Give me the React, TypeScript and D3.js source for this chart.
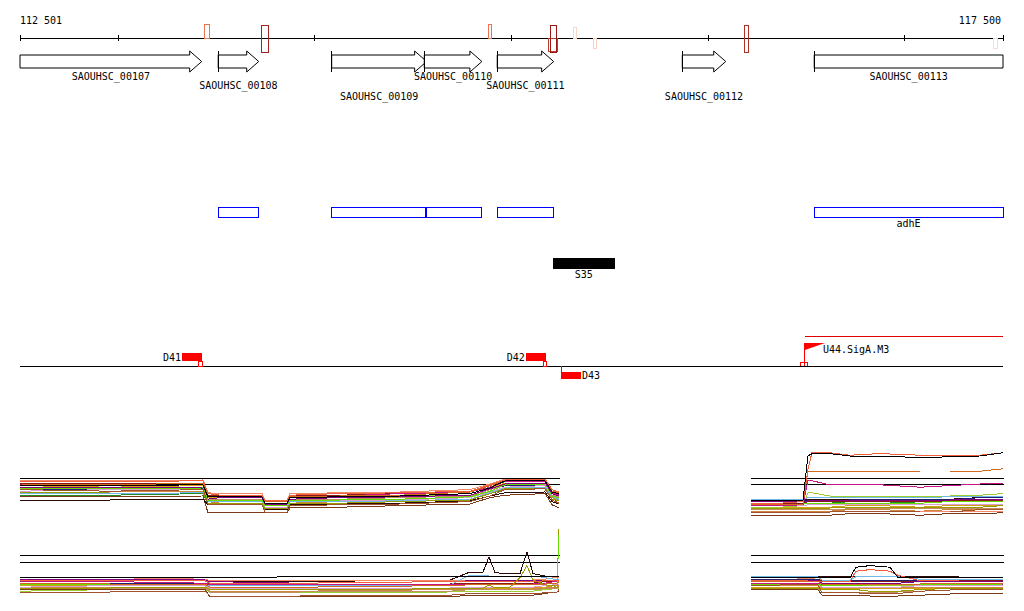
import React from "react";
import * as d3 from "d3";

// genomic window shown
const REGION_START = 112501;
const REGION_END = 117500;
const AXIS_TICKS = [113000, 114000, 115000, 116000, 117000];

const GENES = [
  { name: "SAOUHSC_00107", start: 111950, end: 113425 },
  { name: "SAOUHSC_00108", start: 113509, end: 113715 },
  { name: "SAOUHSC_00109", start: 114086, end: 114569 },
  { name: "SAOUHSC_00110", start: 114557, end: 114850 },
  { name: "SAOUHSC_00111", start: 114928, end: 115215 },
  { name: "SAOUHSC_00112", start: 115869, end: 116090 },
  { name: "SAOUHSC_00113", start: 116540, end: 117900 },
];

// break points on the axis: strand and strength
const BREAKS = [
  { start: 113438, end: 113464, strand: "+", score: 0.55 },
  { start: 113727, end: 113766, strand: "±", score: 0.9 },
  { start: 114882, end: 114900, strand: "+", score: 0.55 },
  { start: 115191, end: 115235, strand: "-", score: 0.8 },
  { start: 115201, end: 115227, strand: "±", score: 0.95 },
  { start: 115315, end: 115329, strand: "+", score: 0.12 },
  { start: 115415, end: 115435, strand: "-", score: 0.15 },
  { start: 116183, end: 116207, strand: "±", score: 0.85 },
  { start: 117451, end: 117470, strand: "-", score: 0.1 },
];

const SEGMENTS = [
  { start: 113509, end: 113712, label: "" },
  { start: 114084, end: 114561, label: "" },
  { start: 114566, end: 114847, label: "" },
  { start: 114928, end: 115213, label: "" },
  { start: 116539, end: 117500, label: "adhE" },
];

const SRNAS = [{ start: 115212, end: 115525, label: "S35" }];

const TERMINATORS = [
  { name: "D41", start: 113325, end: 113426, strand: "+", siteStart: 113408, siteEnd: 113428 },
  { name: "D42", start: 115073, end: 115174, strand: "+", siteStart: 115161, siteEnd: 115181 },
  { name: "D43", start: 115254, end: 115354, strand: "-", siteStart: 115254, siteEnd: 115254 },
];

const PROMOTERS = [
  { name: "U44.SigA.M3", pos: 116493, siteStart: 116471, siteEnd: 116507, transcriptEnd: 117500 },
];

// expression profiles (log2 signal), one value per position, conditions in fixed order
const CONDITION_COLORS = [
  "#000000", "#f0603c", "#a0522d", "#d2691e", "#66dd00",
  "#999900", "#800080", "#c71585", "#70b8e8", "#d8a0d0",
  "#8b1a1a", "#c09060", "#202070", "#d4a017", "#f08a6a",
  "#2a0a0a", "#7a3a1a", "#cd853f", "#9acd32", "#228b22",
];

const TOP_THRESHOLDS = [11.25, 10.5];
const BOTTOM_THRESHOLDS = [11.625, 10.75];

const TL_POS = [112501, 112959, 113432, 113457, 113518, 113732, 113747, 113859, 113874, 114128, 114433, 114790, 114891, 114968, 115171, 115207, 115242];
const TL_VALUES = [
  [10.3, 10.3, 10.4, 8.9, 8.9, 8.9, 8.1, 8.1, 8.8, 8.9, 9.0, 9.3, 10.0, 10.9, 10.9, 9.5, 9.3],
  [10.8, 10.8, 10.9, 9.3, 9.1, 9.1, 8.4, 8.4, 9.1, 9.3, 9.4, 9.6, 10.4, 11.0, 11.1, 9.8, 9.5],
  [9.8, 9.6, 9.8, 8.0, 7.9, 7.9, 7.0, 7.0, 7.8, 7.9, 8.0, 8.3, 9.0, 9.8, 9.9, 8.5, 8.1],
  [10.5, 10.4, 10.6, 9.0, 9.0, 9.0, 8.3, 8.3, 9.0, 9.0, 9.1, 9.5, 10.3, 10.9, 11.0, 9.6, 9.4],
  [9.9, 9.9, 10.0, 8.5, 8.5, 8.5, 7.8, 7.8, 8.5, 8.5, 8.6, 8.9, 9.6, 10.4, 10.5, 9.0, 8.8],
  [9.4, 9.5, 9.5, 8.1, 8.1, 8.1, 7.4, 7.4, 8.0, 8.1, 8.3, 8.5, 9.3, 9.9, 10.0, 8.6, 8.4],
  [10.1, 10.0, 10.1, 8.6, 8.8, 8.8, 7.9, 7.9, 8.6, 8.8, 8.9, 9.1, 9.9, 10.5, 10.6, 9.3, 9.0],
  [10.4, 10.5, 10.5, 9.0, 8.9, 8.9, 8.1, 8.1, 8.9, 9.0, 9.3, 9.5, 10.1, 10.8, 10.8, 9.4, 9.1],
  [9.3, 9.3, 9.4, 8.3, 8.3, 8.3, 7.5, 7.5, 8.3, 8.3, 8.4, 8.6, 9.4, 10.0, 10.1, 8.9, 8.6],
  [9.6, 9.8, 9.8, 8.4, 8.4, 8.4, 7.6, 7.6, 8.4, 8.4, 8.5, 8.8, 9.5, 10.1, 10.3, 8.9, 8.6],
  [10.6, 10.6, 10.6, 9.1, 9.1, 9.1, 8.4, 8.4, 9.0, 9.1, 9.3, 9.5, 10.3, 10.9, 10.9, 9.6, 9.3],
  [10.0, 10.0, 10.1, 8.6, 8.6, 8.6, 7.9, 7.9, 8.6, 8.6, 8.8, 9.0, 9.8, 10.4, 10.4, 9.1, 8.9],
  [9.8, 9.8, 9.9, 8.5, 8.4, 8.4, 7.8, 7.8, 8.5, 8.6, 8.8, 9.0, 9.8, 10.3, 10.4, 9.0, 8.8],
  [10.3, 10.1, 10.3, 8.8, 8.8, 8.8, 8.0, 8.0, 8.8, 8.9, 9.0, 9.3, 10.0, 10.6, 10.6, 9.3, 9.0],
  [10.9, 10.9, 11.0, 9.4, 9.3, 9.3, 8.5, 8.5, 9.3, 9.4, 9.5, 9.8, 10.5, 11.1, 11.1, 9.8, 9.5],
  [8.5, 8.5, 8.6, 7.9, 7.9, 7.9, 7.3, 7.3, 7.9, 8.0, 8.1, 8.4, 9.0, 9.4, 9.5, 8.3, 8.0],
  [8.9, 8.9, 9.0, 6.9, 6.9, 6.9, 6.9, 6.9, 7.5, 7.6, 7.8, 8.0, 8.8, 9.1, 9.3, 7.9, 7.5],
  [9.5, 9.5, 9.6, 8.3, 8.1, 8.1, 7.5, 7.5, 8.1, 8.3, 8.4, 8.6, 9.4, 10.0, 10.1, 8.8, 8.5],
  [9.9, 9.8, 9.9, 8.8, 8.8, 8.8, 8.0, 8.0, 8.8, 8.9, 9.0, 9.1, 9.9, 10.5, 10.5, 9.1, 8.9],
  [9.1, 9.1, 9.3, 7.9, 8.0, 8.0, 7.3, 7.3, 8.0, 8.1, 8.3, 8.5, 9.3, 9.8, 9.9, 8.6, 8.4],
];

const BL_POS = [112501, 112959, 113442, 113467, 113925, 114688, 114790, 114856, 114886, 114917, 114993, 115044, 115079, 115110, 115171, 115217, 115232, 115242];
const BL_VALUES = [
  [8.8, 8.8, 8.8, 8.8, 8.9, 8.9, 8.9, 8.9, 8.9, 8.9, 8.9, 8.9, 8.9, 8.9, 8.9, 8.9, 8.9, 9.0],
  [8.5, 8.4, 8.4, 8.1, 8.1, 8.3, 8.3, 8.3, 8.3, 8.3, 8.3, 8.3, 8.3, 8.3, 8.4, 8.5, 8.5, 8.5],
  [7.0, 7.0, 7.1, 6.5, 6.5, 6.6, 6.8, 6.8, 6.8, 6.8, 6.8, 6.8, 6.8, 6.8, 6.9, 7.0, 7.0, 7.3],
  [8.1, 8.0, 8.0, 7.6, 7.6, 7.8, 7.9, 7.9, 7.9, 7.9, 7.9, 7.9, 7.9, 7.9, 8.0, 8.1, 8.1, 8.3],
  [7.9, 7.9, 7.9, 7.6, 7.6, 7.8, 7.9, 7.9, 7.9, 7.9, 7.9, 7.9, 7.9, 7.9, 8.0, 8.1, 8.1, 14.1],
  [7.5, 7.5, 7.6, 7.3, 7.3, 7.4, 7.5, 7.5, 7.9, 7.5, 7.6, 8.8, 10.3, 8.5, 7.9, 7.8, 7.5, 14.9],
  [8.6, 8.6, 8.5, 8.3, 8.1, 8.3, 8.4, 8.4, 8.4, 8.4, 8.4, 8.4, 8.4, 8.4, 8.5, 8.5, 8.5, 8.5],
  [8.3, 8.3, 8.1, 7.9, 7.9, 7.9, 8.0, 8.0, 8.0, 8.0, 8.0, 8.0, 8.0, 8.0, 8.1, 8.3, 8.3, 8.4],
  [7.9, 7.9, 8.0, 7.8, 7.8, 7.9, 9.1, 9.1, 9.0, 9.0, 9.0, 9.0, 9.0, 9.0, 8.8, 8.6, 8.6, 8.6],
  [7.6, 7.8, 7.8, 7.4, 7.4, 7.5, 7.6, 7.6, 7.6, 7.6, 7.6, 7.6, 7.6, 7.6, 7.8, 7.9, 7.9, 7.9],
  [8.4, 8.4, 8.4, 8.0, 8.0, 8.0, 8.1, 8.1, 8.1, 8.1, 8.1, 8.1, 8.1, 8.1, 8.3, 8.4, 8.4, 8.5],
  [7.4, 7.4, 7.5, 7.0, 7.0, 7.1, 7.3, 7.3, 7.3, 7.3, 7.3, 7.3, 7.3, 7.3, 7.4, 7.5, 7.5, 7.6],
  [8.0, 8.0, 8.1, 7.9, 7.9, 7.9, 8.0, 8.0, 8.0, 8.0, 8.0, 8.0, 8.0, 8.0, 8.0, 8.1, 8.1, 8.3],
  [7.8, 7.8, 7.8, 7.3, 7.3, 7.4, 7.5, 7.5, 7.5, 7.5, 7.5, 7.5, 7.5, 7.5, 7.6, 7.8, 7.8, 7.9],
  [8.8, 8.8, 8.6, 8.4, 8.4, 8.5, 8.5, 8.5, 8.5, 8.5, 8.5, 8.5, 8.5, 8.5, 8.6, 8.8, 8.8, 8.8],
  [8.5, 8.5, 8.4, 8.3, 8.3, 8.5, 9.5, 9.5, 11.4, 9.4, 9.3, 9.3, 12.0, 9.3, 9.0, 9.0, 9.0, 8.8],
  [7.3, 7.3, 7.3, 6.4, 6.4, 6.4, 6.6, 6.6, 6.6, 6.6, 6.6, 6.6, 6.6, 6.6, 6.8, 7.0, 7.0, 7.1],
  [7.5, 7.6, 7.6, 7.1, 7.1, 7.3, 7.4, 7.4, 7.4, 7.4, 7.4, 7.4, 7.4, 7.4, 7.5, 7.6, 7.6, 7.8],
  [7.1, 7.3, 7.4, 6.9, 6.9, 7.0, 7.1, 7.1, 7.1, 7.1, 7.1, 7.1, 7.1, 7.1, 7.3, 7.4, 7.4, 7.5],
  [7.6, 7.6, 7.6, 7.3, 7.3, 7.4, 7.5, 7.5, 7.5, 7.5, 7.5, 7.5, 7.5, 7.5, 7.6, 7.8, 7.8, 7.8],
];

const RT_POS = [116218, 116366, 116483, 116508, 116529, 116620, 116722, 116875, 117078, 117231, 117383, 117500];
const RT_VALUES = [
  [8.4, 8.4, 8.5, 14.0, 14.3, 14.3, 14.0, 14.0, 13.8, 13.9, 14.0, 14.4],
  [8.1, 8.1, 8.3, 12.3, 14.5, 14.4, 14.1, 14.3, 14.1, 14.0, 14.1, 14.4],
  [6.9, 6.9, 6.9, 7.0, 7.0, 7.0, 7.1, 7.1, 7.0, 7.0, 7.3, 7.3],
  [7.9, 7.9, 8.0, 12.1, 12.1, 12.1, 12.1, 12.1, 12.0, 12.0, 12.1, 12.4],
  [8.0, 8.0, 8.0, 8.1, 8.1, 8.1, 8.1, 8.1, 8.1, 8.3, 8.3, 8.3],
  [7.4, 7.4, 7.5, 7.5, 7.5, 7.5, 7.6, 7.6, 7.5, 7.6, 7.6, 7.8],
  [8.3, 8.3, 8.3, 8.4, 8.4, 8.4, 8.5, 8.5, 8.4, 8.5, 8.6, 8.6],
  [7.8, 7.8, 7.9, 11.0, 10.9, 10.4, 10.4, 10.4, 10.1, 10.3, 10.5, 10.6],
  [8.6, 8.6, 8.6, 8.8, 8.8, 8.8, 8.8, 8.8, 8.8, 8.9, 8.9, 8.9],
  [7.8, 7.8, 7.8, 7.9, 7.9, 7.9, 8.0, 8.0, 7.9, 8.0, 8.0, 8.0],
  [8.1, 8.1, 8.1, 8.3, 8.3, 8.3, 8.3, 8.3, 8.3, 8.4, 8.4, 8.4],
  [7.3, 7.3, 7.3, 7.3, 7.3, 7.3, 7.4, 7.4, 7.4, 7.4, 7.4, 7.5],
  [8.5, 8.5, 8.5, 8.5, 8.5, 8.5, 8.5, 8.6, 8.6, 8.5, 8.8, 8.8],
  [7.5, 7.5, 7.6, 7.6, 7.6, 7.6, 7.8, 7.8, 7.6, 7.8, 7.8, 7.8],
  [7.0, 6.9, 7.0, 7.0, 7.0, 7.0, 7.1, 7.1, 7.0, 7.1, 7.1, 7.1],
  [8.5, 8.5, 8.6, 8.6, 8.6, 8.6, 8.6, 8.6, 8.6, 8.6, 8.8, 8.8],
  [6.6, 6.6, 6.6, 6.6, 6.6, 6.6, 6.8, 6.8, 6.6, 6.8, 6.8, 6.9],
  [7.1, 7.1, 7.1, 7.1, 7.1, 7.1, 7.3, 7.3, 7.1, 7.3, 7.3, 7.3],
  [7.6, 7.6, 7.8, 9.4, 9.4, 9.0, 9.0, 9.0, 8.9, 9.0, 9.1, 9.3],
  [8.0, 8.0, 8.1, 8.1, 8.1, 8.1, 8.3, 8.3, 8.1, 8.3, 8.3, 8.4],
];

const RB_POS = [116218, 116417, 116559, 116580, 116722, 116752, 116824, 116925, 116966, 117078, 117281, 117500];
const RB_VALUES = [
  [8.8, 8.8, 8.8, 8.8, 8.8, 10.1, 10.3, 10.1, 8.8, 8.8, 8.8, 8.8],
  [8.5, 8.5, 8.3, 8.3, 8.3, 9.6, 9.8, 9.6, 9.1, 8.4, 8.5, 8.5],
  [7.8, 7.9, 7.9, 6.9, 6.9, 6.9, 6.8, 6.8, 6.8, 7.1, 7.3, 7.3],
  [8.3, 8.3, 8.3, 8.0, 8.0, 8.0, 8.0, 8.0, 8.0, 8.0, 8.1, 8.1],
  [8.0, 8.0, 8.0, 7.8, 7.8, 7.8, 7.9, 7.9, 7.9, 7.9, 7.9, 8.0],
  [7.5, 7.5, 7.5, 7.3, 7.3, 7.3, 7.1, 7.1, 7.1, 7.3, 7.5, 7.5],
  [8.4, 8.4, 8.4, 8.1, 8.1, 8.1, 8.1, 8.1, 8.1, 8.3, 8.3, 8.3],
  [8.1, 8.1, 8.1, 7.9, 7.9, 7.9, 7.9, 7.9, 7.9, 8.0, 8.0, 8.0],
  [8.9, 8.9, 8.9, 8.5, 8.5, 8.9, 9.0, 9.0, 8.9, 8.6, 8.6, 8.6],
  [7.9, 7.9, 7.9, 7.6, 7.6, 7.6, 7.6, 7.6, 7.6, 7.8, 7.8, 7.8],
  [8.5, 8.5, 8.5, 8.3, 8.3, 8.3, 8.3, 8.3, 8.3, 8.3, 8.4, 8.4],
  [7.4, 7.4, 7.4, 7.0, 7.0, 7.0, 7.0, 7.0, 7.0, 7.1, 7.3, 7.3],
  [8.6, 8.6, 8.6, 8.4, 8.4, 8.4, 8.5, 8.5, 8.5, 8.5, 8.5, 8.5],
  [7.6, 7.6, 7.6, 7.4, 7.4, 7.4, 7.4, 7.4, 7.4, 7.5, 7.5, 7.5],
  [8.8, 8.8, 8.6, 8.5, 8.5, 8.5, 8.5, 8.5, 8.5, 8.5, 8.6, 8.6],
  [9.0, 9.0, 9.0, 8.9, 8.9, 8.9, 8.9, 8.9, 8.9, 8.9, 9.0, 9.0],
  [7.3, 7.3, 7.3, 6.6, 6.6, 6.6, 6.5, 6.5, 6.5, 6.6, 6.8, 6.8],
  [7.8, 7.8, 7.8, 7.5, 7.5, 7.5, 7.5, 7.5, 7.5, 7.6, 7.6, 7.6],
  [8.1, 8.1, 8.1, 7.8, 7.8, 7.8, 7.8, 7.8, 7.8, 7.9, 7.9, 7.9],
  [7.9, 7.9, 7.9, 7.5, 7.5, 7.5, 7.4, 7.4, 7.4, 7.5, 7.6, 7.6],
];

const WIDTH = 1024;
const HEIGHT = 611;
const FONT = "'DejaVu Sans Mono', monospace";

const x = d3.scaleLinear().domain([REGION_START, REGION_END]).range([20, 1003]);
const yTop = d3.scaleLinear().domain([6, 16]).range([520, 440]);
const yBottom = d3.scaleLinear().domain([6, 16]).range([600, 520]);
const breakColor = d3
  .scaleLinear<string>()
  .domain([0.1, 0.55, 1])
  .range(["#f8dcd0", "#f07050", "#8b1010"]);
const breakHeight = d3.scaleLinear().domain([0.1, 0.5]).range([10, 13.5]).clamp(true);
const fmt = d3.formatLocale({ thousands: " ", grouping: [3], decimal: ".", currency: ["", ""] }).format(",");

const AXIS_Y = 38;
const GENE_MID = 61.5;
const LABEL_ROWS = [80, 89, 100];

function Profiles({ pos, values, y, thresholds }: { pos: number[]; values: number[][]; y: d3.ScaleLinear<number, number>; thresholds: number[] }) {
  const line = d3
    .line<number>()
    .x((_, i) => x(pos[i]))
    .y((v) => y(v));
  const x0 = x(pos[0]);
  const x1 = x(pos[pos.length - 1]);
  const order = values.map((_, i) => i).reverse();
  return (
    <g>
      {thresholds.map((t) => (
        <line key={t} x1={x0} x2={x1 + 1} y1={y(t)} y2={y(t)} stroke="#000" />
      ))}
      {order.map((i) => (
        <path key={i} d={line(values[i]) || ""} fill="none" stroke={CONDITION_COLORS[i]} strokeWidth={1} />
      ))}
    </g>
  );
}

export default function App() {
  return (
    <svg
      width={WIDTH}
      height={HEIGHT}
      style={{ position: "absolute", left: 0, top: 0, background: "#fff" }}
      fontFamily={FONT}
      fontSize={10}
      shapeRendering="crispEdges"
    >
      <rect width={WIDTH} height={HEIGHT} fill="#fff" />

      {/* coordinate axis */}
      <text x={x(REGION_START)} y={24}>{fmt(REGION_START)}</text>
      <text x={x(REGION_END) - 2} y={24} textAnchor="end">{fmt(REGION_END)}</text>
      <line x1={x(REGION_START)} x2={x(REGION_END)} y1={AXIS_Y} y2={AXIS_Y} stroke="#000" />
      {[REGION_START, ...AXIS_TICKS, REGION_END].map((t) => (
        <line key={t} x1={x(t)} x2={x(t)} y1={AXIS_Y - 3} y2={AXIS_Y + 3} stroke="#000" />
      ))}

      {/* genes */}
      {GENES.map((g, i) => {
        const leftCut = g.start < REGION_START;
        const rightCut = g.end > REGION_END;
        const sx = x(Math.max(g.start, REGION_START));
        const ex = x(Math.min(g.end, REGION_END));
        const hx = rightCut ? ex : ex - 12;
        const d = rightCut
          ? `M${sx},55H${ex}V68H${sx}Z`
          : `M${sx},55H${hx}V51L${ex},${GENE_MID}L${hx},72V68H${sx}Z`;
        return (
          <g key={g.name}>
            <path d={d} fill="#fff" stroke="#000" shapeRendering="auto" />
            {!leftCut && <line x1={sx} x2={sx} y1={51} y2={72} stroke="#000" />}
            <text x={(sx + ex) / 2} y={LABEL_ROWS[i % 3]} textAnchor="middle">{g.name}</text>
          </g>
        );
      })}

      {/* break points */}
      {BREAKS.map((b, i) => {
        const h = breakHeight(b.score);
        const y0 = b.strand === "-" ? AXIS_Y : AXIS_Y - h;
        const y1 = b.strand === "+" ? AXIS_Y : AXIS_Y + (b.strand === "-" ? h : 14);
        const top = b.strand === "±" ? AXIS_Y - 13 : y0;
        return (
          <rect
            key={i}
            x={x(b.start)}
            y={top}
            width={x(b.end) - x(b.start)}
            height={y1 - top}
            fill="none"
            stroke={breakColor(b.score)}
          />
        );
      })}

      {/* annotation segments */}
      {SEGMENTS.map((s, i) => (
        <g key={i}>
          <rect x={x(s.start)} y={207.5} width={x(s.end) - x(s.start)} height={10} fill="none" stroke="#0000ff" />
          {s.label && (
            <text x={(x(s.start) + x(s.end)) / 2} y={227} textAnchor="middle">{s.label}</text>
          )}
        </g>
      ))}

      {SRNAS.map((s) => (
        <g key={s.label}>
          <rect x={x(s.start)} y={258} width={x(s.end) - x(s.start)} height={11} fill="#000" />
          <text x={(x(s.start) + x(s.end)) / 2} y={278} textAnchor="middle">{s.label}</text>
        </g>
      ))}

      {/* regulatory track */}
      {PROMOTERS.map((p) => (
        <g key={p.name}>
          <line x1={x(p.pos)} x2={x(p.transcriptEnd)} y1={336.5} y2={336.5} stroke="#e00000" />
          <line x1={x(p.pos)} x2={x(p.pos)} y1={343} y2={366} stroke="#ff0000" />
          <path d={`M${x(p.pos)},343H${x(p.pos) + 20}L${x(p.pos)},350Z`} fill="#ff0000" shapeRendering="auto" />
          <rect x={x(p.siteStart)} y={362} width={x(p.siteEnd) - x(p.siteStart)} height={4.5} fill="none" stroke="#ff0000" />
          <text x={x(p.pos) + 18} y={353}>{p.name}</text>
        </g>
      ))}
      <line x1={x(REGION_START)} x2={x(REGION_END)} y1={366.5} y2={366.5} stroke="#000" />
      {TERMINATORS.map((t) => {
        const sx = x(t.start);
        const ex = x(t.end);
        if (t.strand === "+") {
          return (
            <g key={t.name}>
              <rect x={sx} y={353} width={ex - sx} height={8} fill="#ff0000" />
              <rect x={x(t.siteStart)} y={361.5} width={x(t.siteEnd) - x(t.siteStart)} height={5} fill="none" stroke="#ff0000" />
              <text x={sx - 1} y={361} textAnchor="end">{t.name}</text>
            </g>
          );
        }
        return (
          <g key={t.name}>
            <line x1={sx} x2={sx} y1={366} y2={379} stroke="#ff0000" />
            <rect x={sx} y={372} width={ex - sx} height={7} fill="#ff0000" />
            <text x={ex + 1} y={379}>{t.name}</text>
          </g>
        );
      })}

      {/* expression profiles */}
      <Profiles pos={TL_POS} values={TL_VALUES} y={yTop} thresholds={TOP_THRESHOLDS} />
      <Profiles pos={RT_POS} values={RT_VALUES} y={yTop} thresholds={TOP_THRESHOLDS} />
      <Profiles pos={BL_POS} values={BL_VALUES} y={yBottom} thresholds={BOTTOM_THRESHOLDS} />
      <Profiles pos={RB_POS} values={RB_VALUES} y={yBottom} thresholds={BOTTOM_THRESHOLDS} />
    </svg>
  );
}
